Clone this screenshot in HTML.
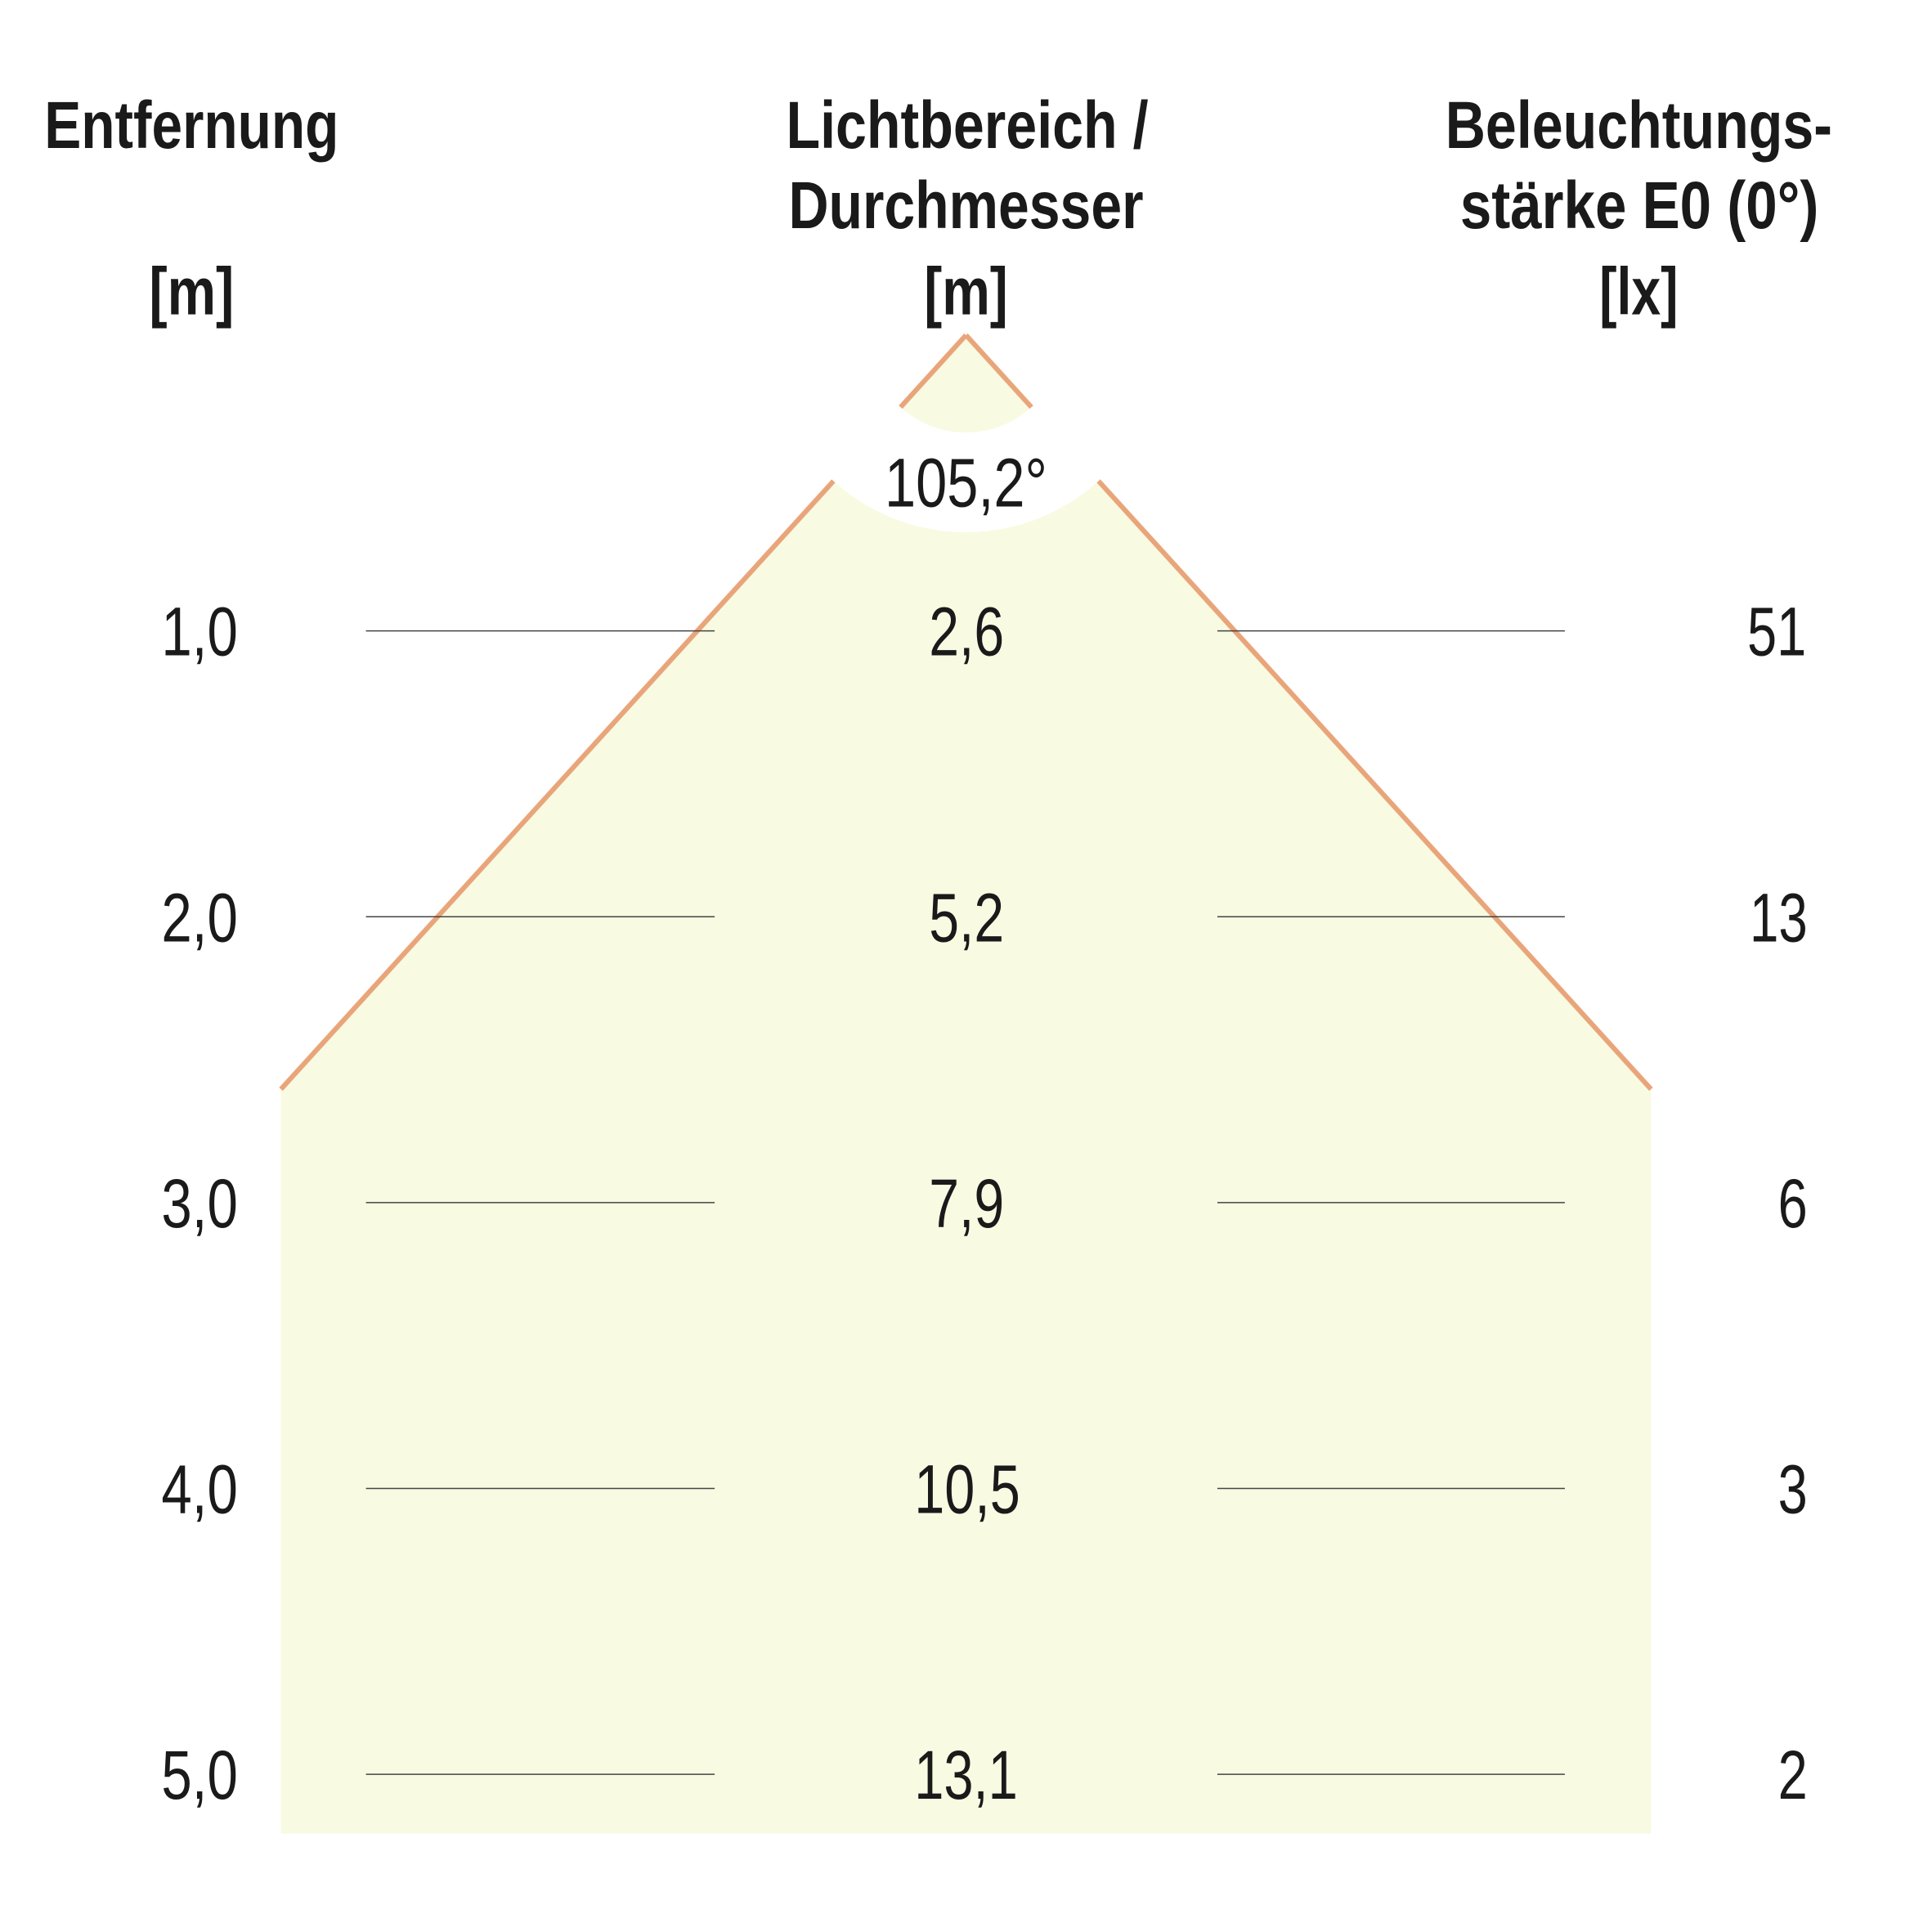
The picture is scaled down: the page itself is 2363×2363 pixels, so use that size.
<!DOCTYPE html>
<html><head><meta charset="utf-8"><style>html,body{margin:0;padding:0;background:#fff}svg{display:block}</style></head>
<body>
<svg width="2363" height="2363" viewBox="0 0 1568 1568" xmlns="http://www.w3.org/2000/svg">
<defs>
<mask id="m">
<rect width="1568" height="1568" fill="#fff"/>
<circle cx="784" cy="272" r="160" fill="#000"/>
<circle cx="784" cy="272" r="79" fill="#fff"/>
</mask>
</defs>
<g mask="url(#m)">
<polygon points="784,272 228,884 228,1488 1340,1488 1340,884" fill="#F8FAE2"/>
<line x1="784" y1="272" x2="228" y2="884" stroke="#E9A57A" stroke-width="4"/>
<line x1="784" y1="272" x2="1340" y2="884" stroke="#E9A57A" stroke-width="4"/>
</g>
<g stroke="#444" stroke-width="1">
<line x1="297" y1="512" x2="580" y2="512"/><line x1="988" y1="512" x2="1270" y2="512"/>
<line x1="297" y1="744" x2="580" y2="744"/><line x1="988" y1="744" x2="1270" y2="744"/>
<line x1="297" y1="976" x2="580" y2="976"/><line x1="988" y1="976" x2="1270" y2="976"/>
<line x1="297" y1="1208" x2="580" y2="1208"/><line x1="988" y1="1208" x2="1270" y2="1208"/>
<line x1="297" y1="1440" x2="580" y2="1440"/><line x1="988" y1="1440" x2="1270" y2="1440"/>
</g>
<g font-family="Liberation Sans, sans-serif" font-weight="bold" font-size="54" fill="#1a1a1a">
<text x="36" y="120" textLength="239" lengthAdjust="spacingAndGlyphs">Entfernung</text>
<text x="121" y="255" textLength="69" lengthAdjust="spacingAndGlyphs">[m]</text>
<text x="638" y="120" textLength="294" lengthAdjust="spacingAndGlyphs">Lichtbereich /</text>
<text x="640" y="185" textLength="288" lengthAdjust="spacingAndGlyphs">Durchmesser</text>
<text x="750" y="255" textLength="68" lengthAdjust="spacingAndGlyphs">[m]</text>
<text x="1173" y="120" textLength="314" lengthAdjust="spacingAndGlyphs">Beleuchtungs-</text>
<text x="1185" y="185" textLength="291" lengthAdjust="spacingAndGlyphs">stärke E0 (0°)</text>
<text x="1298" y="255" textLength="64" lengthAdjust="spacingAndGlyphs">[lx]</text>
</g>
<g font-family="Liberation Sans, sans-serif" font-size="56" fill="#1a1a1a">
<text x="718" y="411" textLength="132" lengthAdjust="spacingAndGlyphs">105,2°</text>
<text x="131" y="532" textLength="62" lengthAdjust="spacingAndGlyphs">1,0</text>
<text x="131" y="764" textLength="62" lengthAdjust="spacingAndGlyphs">2,0</text>
<text x="131" y="996" textLength="62" lengthAdjust="spacingAndGlyphs">3,0</text>
<text x="131" y="1228" textLength="62" lengthAdjust="spacingAndGlyphs">4,0</text>
<text x="131" y="1460" textLength="62" lengthAdjust="spacingAndGlyphs">5,0</text>
<text x="754" y="532" textLength="61" lengthAdjust="spacingAndGlyphs">2,6</text>
<text x="754" y="764" textLength="61" lengthAdjust="spacingAndGlyphs">5,2</text>
<text x="754" y="996" textLength="61" lengthAdjust="spacingAndGlyphs">7,9</text>
<text x="742" y="1228" textLength="86" lengthAdjust="spacingAndGlyphs">10,5</text>
<text x="742" y="1460" textLength="84" lengthAdjust="spacingAndGlyphs">13,1</text>
<text x="1418" y="532" textLength="48" lengthAdjust="spacingAndGlyphs">51</text>
<text x="1420" y="764" textLength="47" lengthAdjust="spacingAndGlyphs">13</text>
<text x="1443" y="996" textLength="24" lengthAdjust="spacingAndGlyphs">6</text>
<text x="1443" y="1228" textLength="24" lengthAdjust="spacingAndGlyphs">3</text>
<text x="1443" y="1460" textLength="24" lengthAdjust="spacingAndGlyphs">2</text>
</g>
</svg>
</body></html>
